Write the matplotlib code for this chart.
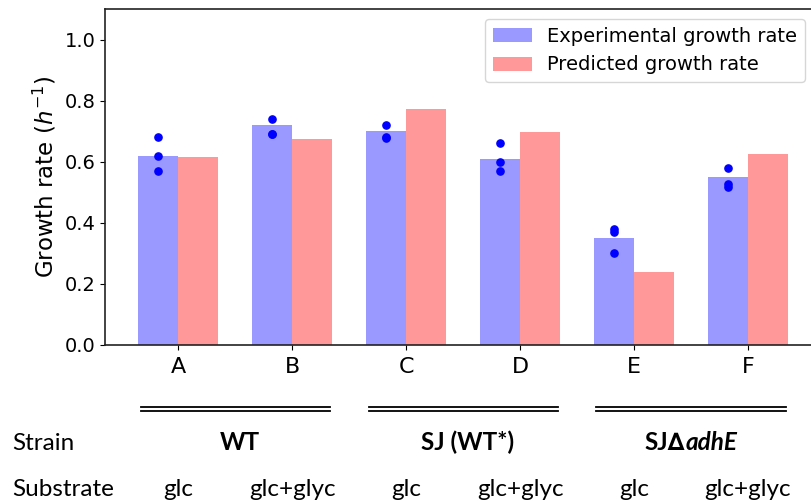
import matplotlib
matplotlib.use("Agg")
import matplotlib.pyplot as plt
import matplotlib.transforms as mtransforms
from matplotlib.lines import Line2D
import numpy as np

# Data
conditions = ["A", "B", "C", "D", "E", "F"]
experimental = [0.62, 0.72, 0.70, 0.61, 0.35, 0.55]
predicted = [0.617, 0.676, 0.773, 0.697, 0.240, 0.624]
replicates = [
    [0.68, 0.62, 0.57],
    [0.74, 0.69, 0.69],
    [0.72, 0.68, 0.677],
    [0.66, 0.60, 0.57],
    [0.38, 0.371, 0.30],
    [0.58, 0.526, 0.518],
]
strains = ["WT", "SJ (WT*)", "SJ\u2206"]
substrates = ["glc", "glc+glyc", "glc", "glc+glyc", "glc", "glc+glyc"]

# Settings
WIDTH = 0.35
TABLE_FONT = ["Lato", "DejaVu Sans"]
TABLE_SIZE = 17.5

plt.rcParams["font.family"] = "DejaVu Sans"
plt.rcParams["mathtext.fontset"] = "dejavusans"


def Main():
    fig = plt.figure(figsize=(8.11, 5.01), dpi=100)
    ax = fig.add_axes([105/811, 1-345/501, 716/811, 336/501])

    x = np.arange(len(conditions))

    # Bars
    ax.bar(x - WIDTH/2, experimental, WIDTH, color="blue", alpha=0.4,
           label="Experimental growth rate")
    ax.bar(x + WIDTH/2, predicted, WIDTH, color="red", alpha=0.4,
           label="Predicted growth rate")

    # Replicate dots on experimental bars
    for i, reps in enumerate(replicates):
        ax.plot([x[i] - WIDTH/2]*len(reps), reps, "o", color="blue",
                markersize=5.2, linestyle="none")

    # Gussy it up
    ax.set_xlim(-0.642, 5.64)
    ax.set_ylim(0, 1.1)
    ax.set_xticks(x)
    ax.set_xticklabels(conditions, fontsize=16)
    ax.set_yticks([0.0, 0.2, 0.4, 0.6, 0.8, 1.0])
    ax.tick_params(axis="y", labelsize=14)
    ax.tick_params(axis="x", pad=5)
    ax.set_ylabel("Growth rate ($h^{-1}$)", fontsize=16.5)
    for s in ax.spines.values():
        s.set_linewidth(1.2)
        s.set_color("#222222")

    ax.legend(loc="upper left", bbox_to_anchor=(485/811, 1-19/501),
              bbox_transform=fig.transFigure, fontsize=14,
              borderaxespad=0)

    # Table below the axes: x in data units, y in figure units
    trans = mtransforms.blended_transform_factory(ax.transData, fig.transFigure)

    fig.text(12/811, 1-450/501, "Strain", fontsize=TABLE_SIZE,
             family=TABLE_FONT, va="baseline", ha="left")
    fig.text(12/811, 1-496/501, "Substrate", fontsize=TABLE_SIZE,
             family=TABLE_FONT, va="baseline", ha="left")

    for i, sub in enumerate(substrates):
        ax.text(x[i], 1-496/501, sub, transform=trans, fontsize=TABLE_SIZE,
                family=TABLE_FONT, va="baseline", ha="center", clip_on=False)

    for k, strain in enumerate(strains):
        mid = (x[2*k] + x[2*k+1]) / 2
        # double rule over each strain group
        for yy in (407, 411):
            fig.add_artist(Line2D([mid - 0.83, mid + 0.83], [1-yy/501]*2,
                                  transform=trans, color="black", lw=1.3))
        if k < 2:
            ax.text(mid + 0.04, 1-450/501, strain, transform=trans,
                    fontsize=TABLE_SIZE, family=TABLE_FONT, weight="bold",
                    va="baseline", ha="center", clip_on=False)
        else:
            ax.text(mid - 0.05, 1-450/501, strain, transform=trans,
                    fontsize=TABLE_SIZE, family=TABLE_FONT, weight="bold",
                    va="baseline", ha="right", clip_on=False)
            ax.text(mid - 0.05, 1-450/501, "adhE", transform=trans,
                    fontsize=TABLE_SIZE, family=TABLE_FONT, weight="bold",
                    style="italic", va="baseline", ha="left", clip_on=False)

    fig.savefig("out.png", dpi=100)
    plt.close("all")


if __name__ == "__main__":
    Main()
